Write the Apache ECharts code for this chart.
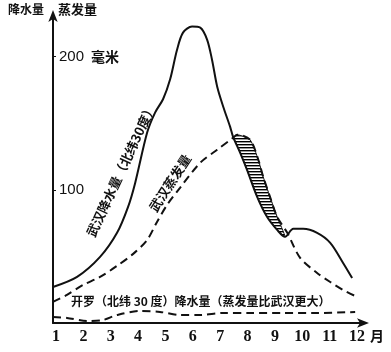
<!DOCTYPE html>
<html><head><meta charset="utf-8">
<script src="https://cdn.jsdelivr.net/npm/echarts@6/dist/echarts.min.js"></script>
<style>html,body{margin:0;padding:0;background:#fff}#c{width:391px;height:352px}</style>
</head><body><div id="c"></div>
<script>
// month ticks
const monthTicks = [1,2,3,4,5,6,7,8,9,10,11,12];
const valueTicks = [100, 200];
// Wuhan precipitation [month, mm]
const wuhanPrecip = [
 [0.89,27],[1.77,34.6],[2.61,49.6],[3.23,67.7],[3.63,87],[3.89,105],[4.33,143],[4.62,158],
 [4.91,168],[5.17,183],[5.42,205],[5.64,218],[5.97,222.6],[6.27,221.8],[6.52,212.8],[6.70,197.7],
 [6.89,177.4],[7.11,162.4],[7.36,147.4],[7.47,139.8],[7.73,127.8],[7.98,115],[8.35,94.7],
 [8.71,79.7],[9.08,69.9],[9.37,64.7],[9.67,70.7],[10.03,70.7],[10.54,67.7],[11.02,60.2],
 [11.49,45.1],[11.82,33.8]
];
// Wuhan evaporation [month, mm]
const wuhanEvap = [
 [0.89,15.8],[1.40,21.1],[1.99,28.6],[2.61,34.6],[3.23,42.9],[3.82,51.9],[4.33,62.4],[4.69,75.9],
 [5.06,88.7],[5.53,101.5],[6.27,120.3],[6.89,130.1],[7.47,139.1],[7.62,141.4],
 [8.09,137.6],[8.39,122.6],[8.57,109.8],[8.82,94.7],[9.08,79.7],[9.45,67.7],[9.92,48.9],
 [10.54,37.6],[11.02,30.8],[11.49,24.8],[12.01,19.5]
];
// Cairo precipitation [month, mm]
const cairoPrecip = [
 [0.89,4.5],[1.40,3.8],[2.13,1.5],[2.72,2.3],[3.23,6.0],[4.07,9.0],[4.80,8.3],[5.53,6.0],
 [6.27,6.0],[7.11,7.5],[8.09,7.5],[9.30,7.5],[10.54,7.5],[11.93,8.3]
];
// deficit (hatched) range, months
const deficitStart = 7.47, deficitEnd = 9.37;

const chart = echarts.init(document.getElementById('c'));
const pc = document.createElement('canvas');
pc.width = 4; pc.height = 3;
const g = pc.getContext('2d');
g.fillStyle = '#000'; g.fillRect(0, 0, 4, 1.4);

const inRange = p => p[0] >= deficitStart - 1e-6 && p[0] <= deficitEnd + 1e-6;
const hatchTop = wuhanEvap.filter(inRange);
const hatchBottom = wuhanPrecip.filter(inRange);

const dashed = {color:'#111', width:2, type:[8,5]};
chart.setOption({
  animation:false,
  grid:{left:53, right:26, top:14, bottom:29},
  xAxis:{type:'value', min:0.89, max:12.29,
    axisLine:{lineStyle:{color:'#111', width:2}, symbol:['none','arrow'], symbolSize:[7,12], symbolOffset:[0,4]},
    axisTick:{show:false}, splitLine:{show:false},
    axisLabel:{customValues:monthTicks, color:'#111', fontFamily:'"Liberation Serif", serif', fontWeight:'bold', fontSize:16, margin:6}
  },
  yAxis:{type:'value', min:0, max:232,
    axisLine:{show:true, lineStyle:{color:'#111', width:2}, symbol:['none','arrow'], symbolSize:[7,12], symbolOffset:[0,4]},
    axisTick:{show:true, customValues:valueTicks, length:3, inside:true, lineStyle:{color:'#111'}},
    splitLine:{show:false},
    axisLabel:{customValues:valueTicks, inside:true, margin:6, color:'#111', fontFamily:'"Liberation Sans", sans-serif', fontSize:15}
  },
  series:[
    {type:'custom', silent:true, data:[[0,0]], z:1,
     renderItem:function(params, api){
       const pts = hatchBottom.map(p=>api.coord(p)).concat(hatchTop.slice().reverse().map(p=>api.coord(p)));
       return {type:'polygon', shape:{points:pts, smooth:0.2},
         style:{fill:{image:pc, repeat:'repeat'}, stroke:'#111', lineWidth:1}};
     }},
    {type:'line', data:wuhanPrecip, smooth:0.3, showSymbol:false, lineStyle:{color:'#111', width:2}, z:3},
    {type:'line', data:wuhanEvap, smooth:0.3, showSymbol:false, lineStyle:dashed, z:3},
    {type:'line', data:cairoPrecip, smooth:0.3, showSymbol:false, lineStyle:dashed, z:3}
  ],
  graphic:[
    {type:'text', x:8, y:3, style:{text:'降水量', font:'bold 12px "Noto Sans CJK SC"', fill:'#111'}},
    {type:'text', x:58, y:3, style:{text:'蒸发量', font:'bold 13px "Noto Sans CJK SC"', fill:'#111'}},
    {type:'text', x:91, y:57, style:{text:'毫米', font:'bold 14px "Noto Sans CJK SC"', fill:'#111', verticalAlign:'middle'}},
    {type:'text', x:121, y:170, rotation:65*Math.PI/180,
     style:{text:'武汉降水量（北纬30度）', font:'bold 13px "Noto Sans CJK SC"', fill:'#111', align:'center', verticalAlign:'middle'}},
    {type:'text', x:170, y:183, rotation:57*Math.PI/180,
     style:{text:'武汉蒸发量', font:'bold 13px "Noto Sans CJK SC"', fill:'#111', align:'center', verticalAlign:'middle'}},
    {type:'text', x:71, y:301, style:{text:'开罗（北纬 30 度）降水量（蒸发量比武汉更大）', font:'bold 12px "Noto Sans CJK SC"', fill:'#111', verticalAlign:'middle'}},
    {type:'text', x:370, y:336, style:{text:'月', font:'bold 14px "Noto Sans CJK SC"', fill:'#111', verticalAlign:'middle'}}
  ]
});
</script></body></html>
